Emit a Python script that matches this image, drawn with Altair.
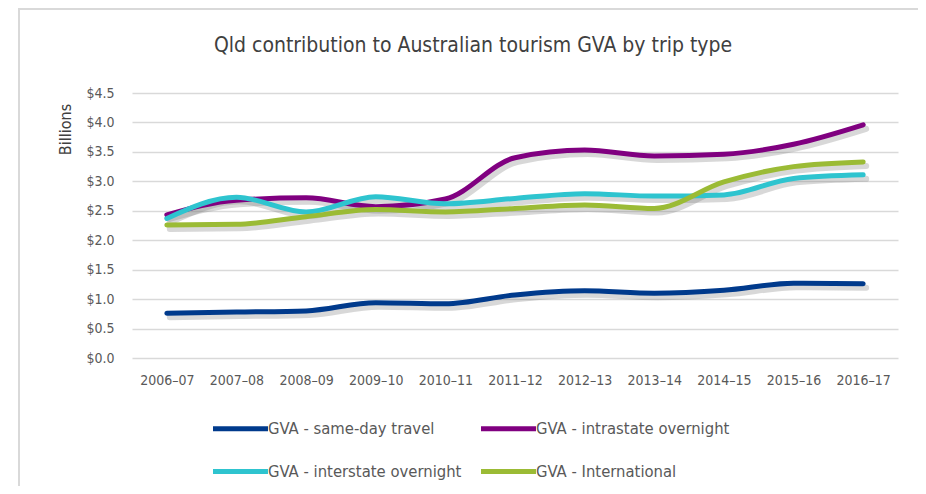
import altair as alt
import pandas as pd

years = ["2006–07", "2007–08", "2008–09", "2009–10", "2010–11", "2011–12",
         "2012–13", "2013–14", "2014–15", "2015–16", "2016–17"]
same_day = [0.76, 0.78, 0.80, 0.94, 0.92, 1.07, 1.14, 1.10, 1.15, 1.27, 1.26]
intrastate = [2.43, 2.68, 2.72, 2.57, 2.70, 3.40, 3.53, 3.43, 3.46, 3.63, 3.96]
interstate = [2.37, 2.73, 2.48, 2.74, 2.62, 2.71, 2.79, 2.75, 2.77, 3.05, 3.11]
international = [2.26, 2.27, 2.40, 2.52, 2.48, 2.54, 2.60, 2.54, 2.99, 3.25, 3.33]

series_names = ["GVA - same-day travel", "GVA - intrastate overnight",
                "GVA - interstate overnight", "GVA - International"]
series_colors = ["#003A8C", "#800080", "#2EC4CF", "#9BBB35"]

rows = []
for name, vals in zip(series_names, [same_day, intrastate, interstate, international]):
    for y, v in zip(years, vals):
        rows.append({"year": y, "series": name, "value": v})
df = pd.DataFrame(rows)

FONT = "'Liberation Sans Narrow', 'Arial Narrow', 'DejaVu Sans Condensed', 'Roboto Condensed', Roboto, sans-serif"

x_enc = alt.X("year:O", sort=years, scale=alt.Scale(type="point", padding=0.5),
              axis=alt.Axis(title=None, labelAngle=0, labelFontSize=14, labelColor="#595959",
                            labelFont=FONT, ticks=False, domain=False, grid=False,
                            labelPadding=15))
y_enc = alt.Y("value:Q", scale=alt.Scale(domain=[0, 4.5]),
              axis=alt.Axis(title="Billions", values=[0, 0.5, 1, 1.5, 2, 2.5, 3, 3.5, 4, 4.5],
                            format="$.1f", labelFontSize=14, labelColor="#595959",
                            labelFont=FONT, ticks=False, domain=False, grid=True,
                            gridColor="#d9d9d9", gridWidth=1.5, labelPadding=18,
                            titleFont=FONT, titleFontSize=16, titleFontWeight="normal",
                            titleColor="#404040", titleAngle=-90, titleX=-67, titleY=36,
                            titleAlign="center", titleBaseline="middle"))

frame = alt.Chart(pd.DataFrame({"a": [0]})).mark_rect(
    fill=None, stroke="#d9d9d9", strokeWidth=2, clip=False
).encode(x=alt.value(-113), x2=alt.value(793), y=alt.value(-84), y2=alt.value(420))

shadow = alt.Chart(df).mark_line(
    interpolate="monotone", strokeWidth=6, color="#7f7f7f", opacity=0.3,
    xOffset=3, yOffset=4, strokeCap="round"
).encode(x=x_enc, y=y_enc, detail="series:N")

lines = alt.Chart(df).mark_line(
    interpolate="monotone", strokeWidth=5, strokeCap="round"
).encode(
    x=x_enc, y=y_enc,
    color=alt.Color("series:N", sort=series_names,
                    scale=alt.Scale(domain=series_names, range=series_colors),
                    legend=alt.Legend(title=None, orient="none", legendX=99, legendY=326,
                                      direction="horizontal",
                                      columns=2, columnPadding=9, rowPadding=22,
                                      symbolType="M-4,0L4,0", symbolSize=189,
                                      symbolStrokeWidth=5, labelFontSize=16.5,
                                      labelFont=FONT, labelColor="#595959",
                                      labelOffset=18, padding=0, labelLimit=400))
)

chart = alt.layer(frame, shadow, lines).properties(
    width=766, height=265,
    title=alt.TitleParams("Qld contribution to Australian tourism GVA by trip type",
                          font=FONT, fontSize=21, fontWeight="normal", color="#404040",
                          anchor="middle", dx=-42, offset=0, dy=48),
    padding={"left": 124, "top": 85, "right": 20, "bottom": 128},
    autosize=alt.AutoSizeParams(type="none")
).configure_view(stroke=None)

chart.save("out.html", embed_options={"renderer": "svg", "actions": False})
